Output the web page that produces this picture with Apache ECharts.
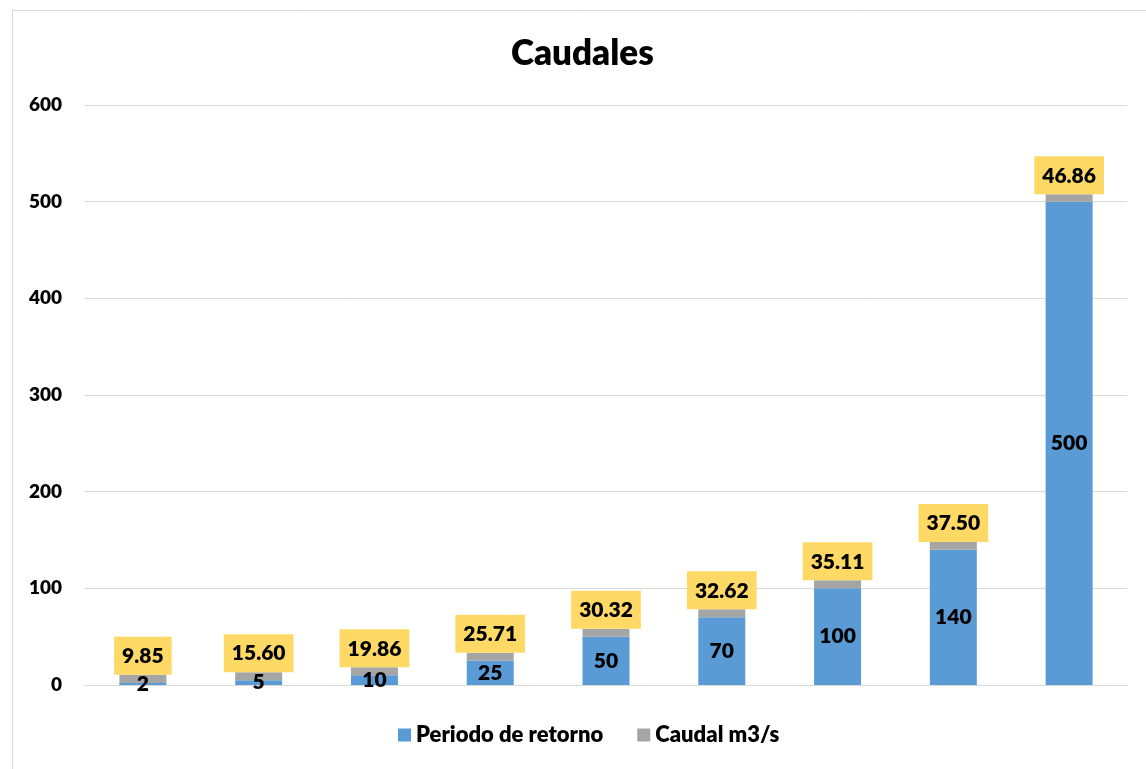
<!DOCTYPE html>
<html>
<head>
<meta charset="utf-8">
<script src="https://cdn.jsdelivr.net/npm/echarts@6/dist/echarts.min.js"></script>
<style>
html,body{margin:0;padding:0;background:#fff;}
#chart{width:1146px;height:769px;}
</style>
</head>
<body>
<div id="chart"></div>
<script>
const categories = ['1','2','3','4','5','6','7','8','9'];
const periodo = [2, 5, 10, 25, 50, 70, 100, 140, 500];
const caudalBar = [8.5, 8.3, 8.3, 8.3, 8.3, 8.3, 8.3, 8.0, 7.6];
const caudalLabels = ['9.85','15.60','19.86','25.71','30.32','32.62','35.11','37.50','46.86'];
const yTicks = [0, 100, 200, 300, 400, 500, 600];

const FONT = 'Lato, "Open Sans", sans-serif';
const W = 800;
const chart = echarts.init(document.getElementById('chart'));
chart.setOption({
  animation: false,
  backgroundColor: '#fff',
  textStyle: { fontFamily: FONT },
  graphic: [{
    type: 'rect', left: 10, top: 8, shape: { width: 1150, height: 780 },
    style: { fill: 'none', stroke: '#d9d9d9', lineWidth: 1 }, silent: true
  }],
  title: {
    text: 'Caudales', left: 506, top: 31,
    textStyle: { fontFamily: FONT, fontWeight: W, fontSize: 35, color: '#000' }
  },
  legend: {
    bottom: 18, left: 393, itemWidth: 13, itemHeight: 13, itemGap: 34,
    icon: 'rect',
    textStyle: { fontFamily: FONT, fontWeight: W, fontSize: 22, color: '#000' },
    data: ['Periodo de retorno', 'Caudal m3/s']
  },
  grid: { left: 85, right: 19, top: 105, bottom: 84, containLabel: false },
  xAxis: {
    type: 'category', data: categories,
    axisLine: { lineStyle: { color: '#d9d9d9', width: 1 } },
    axisTick: { show: false }, axisLabel: { show: false }
  },
  yAxis: {
    type: 'value', min: yTicks[0], max: yTicks[yTicks.length - 1], interval: 100,
    axisLine: { show: false }, axisTick: { show: false },
    axisLabel: { fontFamily: FONT, fontWeight: W, fontSize: 19, color: '#000', margin: 23 },
    splitLine: { lineStyle: { color: '#d9d9d9', width: 1 } }
  },
  series: [
    {
      name: 'Periodo de retorno', type: 'bar', stack: 'a', data: periodo,
      barWidth: 47, itemStyle: { color: '#5B9BD5' },
      label: { show: true, position: 'inside', fontFamily: FONT, fontWeight: W, fontSize: 21, color: '#000' }
    },
    {
      name: 'Caudal m3/s', type: 'bar', stack: 'a', data: caudalBar,
      barWidth: 47, itemStyle: { color: '#A5A5A5' },
      label: {
        show: true, position: 'top', distance: 0,
        formatter: p => caudalLabels[p.dataIndex],
        backgroundColor: '#FFD966', padding: [9, 8, 8, 8],
        fontFamily: FONT, fontWeight: W, fontSize: 21, color: '#000'
      }
    }
  ]
});
</script>
</body>
</html>
